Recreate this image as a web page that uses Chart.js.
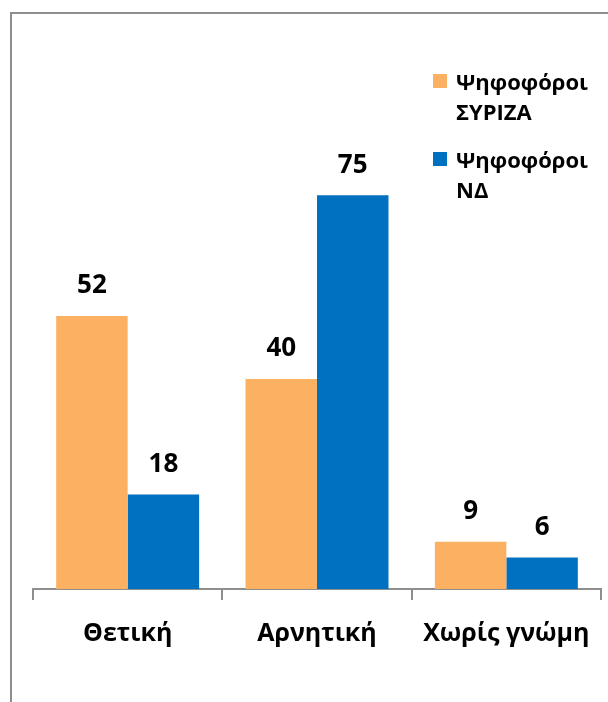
<!DOCTYPE html>
<html>
<head>
<meta charset="utf-8">
<script src="https://cdn.jsdelivr.net/npm/chart.js@4/dist/chart.umd.min.js"></script>
<style>
  html, body { margin: 0; padding: 0; width: 608px; height: 702px; overflow: hidden; background: #fff; }
  #frame { position: absolute; left: 10px; top: 12px; width: 700px; height: 800px; border: 2px solid #8e8e8e; box-sizing: border-box; }
  #c { position: absolute; left: 0; top: 0; }
  #legend { position: absolute; left: 433px; top: 66px; width: 175px; font-family: "Open Sans", "Noto Sans", sans-serif; font-weight: bold; font-size: 22px; line-height: 30px; color: #000; }
  .item { position: relative; padding-left: 23px; margin-bottom: 18px; white-space: pre-line; }
  .sw { position: absolute; left: 0; top: 8px; width: 14px; height: 14px; }
</style>
</head>
<body>
<div id="frame"></div>
<canvas id="c" width="608" height="702"></canvas>
<div id="legend"></div>
<script>
const categories = ["Θετική", "Αρνητική", "Χωρίς γνώμη"];
const seriesNames = ["Ψηφοφόροι ΣΥΡΙΖΑ", "Ψηφοφόροι ΝΔ"];
const syrizaValues = [52, 40, 9];
const ndValues = [18, 75, 6];
const seriesColors = ["#FBB161", "#0070C0"];

const FONT = "'Open Sans', 'Noto Sans', sans-serif";

const valueLabels = {
  id: "valueLabels",
  afterDatasetsDraw(chart) {
    const ctx = chart.ctx;
    ctx.save();
    ctx.font = "bold 26px " + FONT;
    ctx.fillStyle = "#000";
    ctx.textAlign = "center";
    ctx.textBaseline = "middle";
    chart.data.datasets.forEach((ds, di) => {
      const meta = chart.getDatasetMeta(di);
      meta.data.forEach((bar, i) => {
        ctx.fillText(String(ds.data[i]), bar.x, bar.y - 30);
      });
    });
    ctx.restore();
  }
};

const chart = new Chart(document.getElementById("c"), {
  type: "bar",
  data: {
    labels: categories,
    datasets: [
      { label: seriesNames[0], data: syrizaValues, backgroundColor: seriesColors[0] },
      { label: seriesNames[1], data: ndValues, backgroundColor: seriesColors[1] }
    ]
  },
  options: {
    responsive: false,
    animation: false,
    devicePixelRatio: 1,
    layout: { padding: { left: 33, right: 7, top: 64, bottom: 34 } },
    plugins: { legend: { display: false }, tooltip: { enabled: false } },
    datasets: { bar: { categoryPercentage: 0.755, barPercentage: 1.0 } },
    scales: {
      x: {
        offset: true,
        afterFit: (s) => { s.paddingLeft = 0; s.paddingRight = 0; },
        grid: { display: true, offset: true, drawOnChartArea: false, drawTicks: true, tickLength: 11, color: "#8e8e8e", lineWidth: 2 },
        border: { display: true, color: "#8e8e8e", width: 2 },
        ticks: { color: "#000", font: { family: FONT, size: 25, weight: "bold" }, padding: 19, maxRotation: 0, autoSkip: false }
      },
      y: { display: false, min: 0, max: 100 }
    }
  },
  plugins: [valueLabels]
});

const legend = document.getElementById("legend");
chart.data.datasets.forEach(ds => {
  const item = document.createElement("div");
  item.className = "item";
  const sw = document.createElement("span");
  sw.className = "sw";
  sw.style.background = ds.backgroundColor;
  item.appendChild(sw);
  item.appendChild(document.createTextNode(ds.label.split(" ").join("\n")));
  legend.appendChild(item);
});
</script>
</body>
</html>
